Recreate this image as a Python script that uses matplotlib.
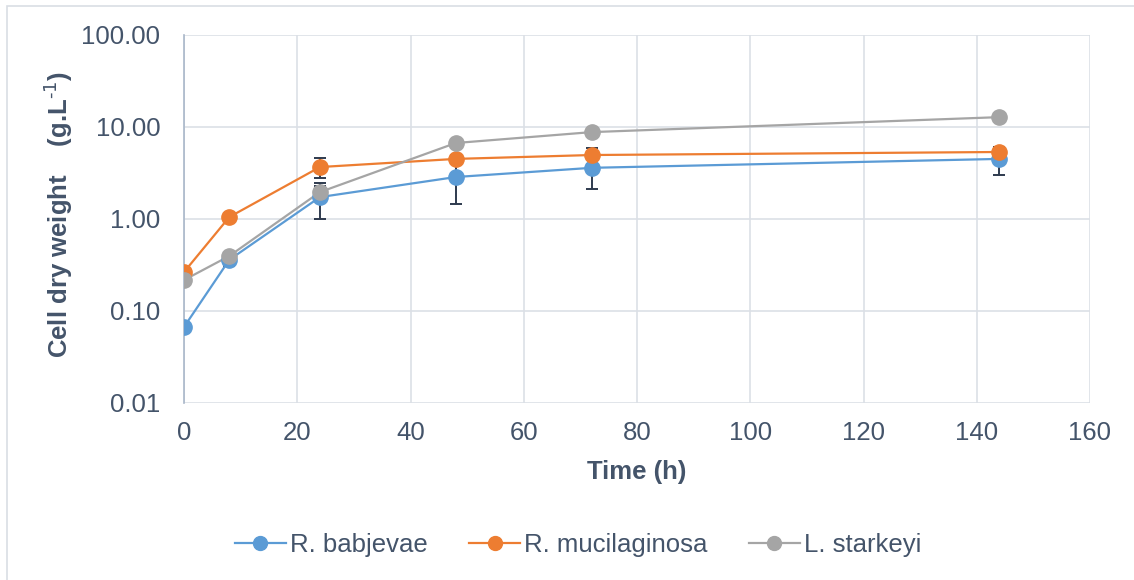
import matplotlib.pyplot as plt
from matplotlib.patches import Rectangle
from matplotlib.lines import Line2D

plt.rcParams['font.family'] = ['Liberation Sans', 'DejaVu Sans']

TEXT = '#44546A'
GRID = '#DCE0E6'
ERR = '#2E3A4E'
FS = 18.5

time_h = [0, 8, 24, 48, 72, 144]

babjevae = [0.067, 0.36, 1.73, 2.86, 3.6, 4.5]
babjevae_sd = [0.005, 0.05, 0.72, 1.4, 1.5, 1.5]

mucilaginosa = [0.265, 1.05, 3.67, 4.5, 4.96, 5.35]
mucilaginosa_sd = [0.01, 0.05, 0.9, 0.45, 1.0, 0.5]

starkeyi = [0.217, 0.396, 1.96, 6.7, 8.8, 12.8]
starkeyi_sd = [0.01, 0.03, 0.3, 0.4, 0.5, 0.5]

series = [
    ("R. babjevae", babjevae, babjevae_sd, '#5B9BD5'),
    ("R. mucilaginosa", mucilaginosa, mucilaginosa_sd, '#ED7D31'),
    ("L. starkeyi", starkeyi, starkeyi_sd, '#A5A5A5'),
]

fig = plt.figure(figsize=(11.34, 5.8), dpi=100)
ax = fig.add_axes([184 / 1134, 1 - 403 / 580, (1090 - 184) / 1134, (403 - 35) / 580])

# outer chart frame
fig.patches.append(Rectangle((7 / 1134, -0.05), 1.1, 1 - 6 / 580 + 0.05,
                             transform=fig.transFigure, fill=False,
                             edgecolor='#D9DEE4', linewidth=1.2))

handles = []
for name, vals, sd, col in series:
    ax.errorbar(time_h, vals, yerr=sd, fmt='none', ecolor=ERR, elinewidth=1.4,
                capsize=4, capthick=1.4, zorder=3)
for name, vals, sd, col in series:
    ax.plot(time_h, vals, color=col, linewidth=1.6, zorder=4)
    ax.plot(time_h, vals, linestyle='none', marker='o', markersize=11,
            markerfacecolor=col, markeredgecolor=col, zorder=5)
    handles.append(Line2D([], [], color=col, linewidth=1.6, marker='o',
                          markersize=10, markerfacecolor=col, markeredgecolor=col,
                          label=name))

ax.set_yscale('log')
ax.set_ylim(0.01, 100)
ax.set_xlim(0, 160)
ax.set_xticks(range(0, 161, 20))
ax.set_yticks([0.01, 0.1, 1, 10, 100])
ax.set_yticklabels(['0.01', '0.10', '1.00', '10.00', '100.00'])
ax.minorticks_off()

ax.grid(True, color=GRID, linewidth=1.2)
ax.set_axisbelow(True)
for s in ['top', 'right', 'bottom']:
    ax.spines[s].set_visible(False)
ax.spines['left'].set_color('#A9B7C9')
ax.spines['left'].set_linewidth(1.2)
ax.tick_params(length=0, labelsize=FS, colors=TEXT)
ax.tick_params(axis='y', pad=17)
ax.tick_params(axis='x', pad=13)

fig.text(637 / 1134, 1 - 472 / 580, 'Time (h)', fontsize=FS, fontweight='bold',
         color=TEXT, ha='center', va='center')
fig.text(58 / 1134, 1 - 214 / 580, r'Cell dry weight    (g.L$^{\text{-1}}$)',
         fontsize=FS, fontweight='bold', color=TEXT, ha='center', va='center',
         rotation=90)

fig.legend(handles=handles, loc='center', bbox_to_anchor=(578 / 1134, 1 - 545 / 580),
           ncol=3, frameon=False, fontsize=FS, labelcolor=TEXT,
           handlelength=2.0, handletextpad=0.15, columnspacing=1.6)

fig.savefig('out.png', dpi=100)
